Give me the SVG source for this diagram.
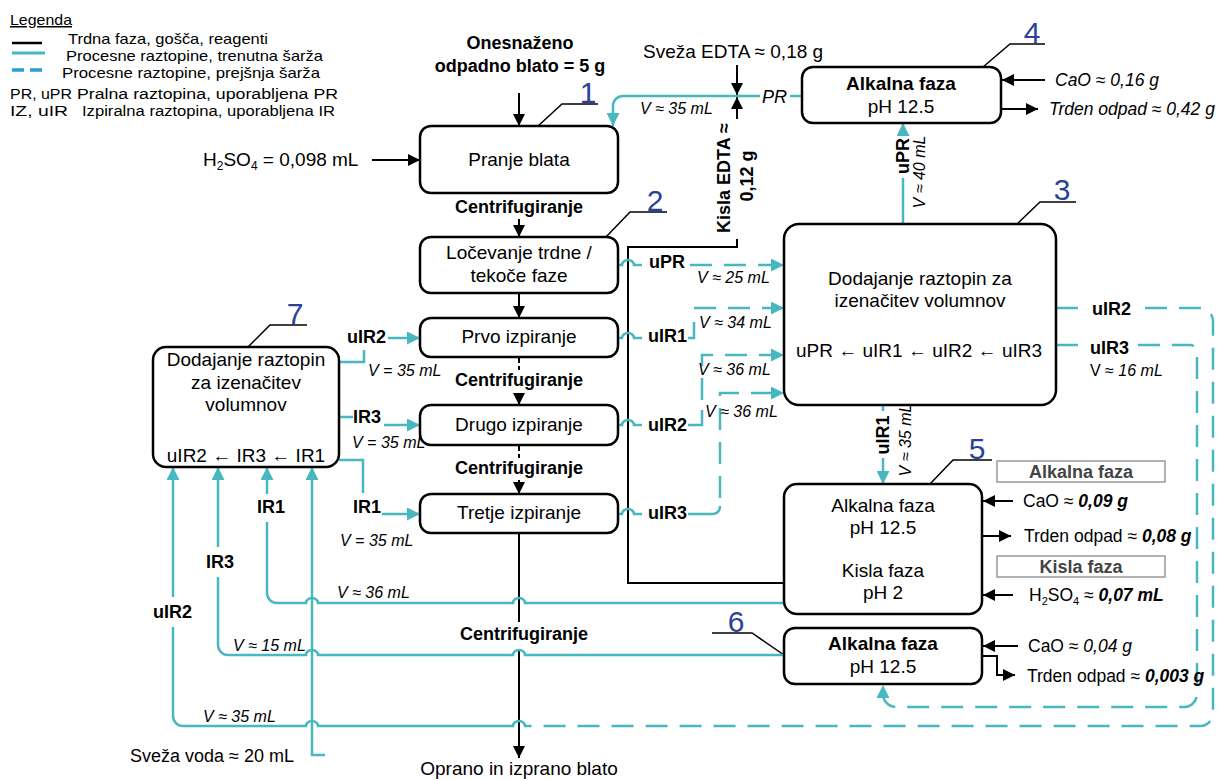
<svg xmlns="http://www.w3.org/2000/svg" width="1227" height="779" viewBox="0 0 1227 779">
<defs>
<marker id="ak" markerUnits="userSpaceOnUse" markerWidth="12" markerHeight="12" viewBox="0 0 12 12" refX="12" refY="6" orient="auto"><path d="M0,0 L12,6 L0,12 z" fill="#000"/></marker>
<marker id="at" markerUnits="userSpaceOnUse" markerWidth="13" markerHeight="13" viewBox="0 0 12 12" refX="12" refY="6" orient="auto"><path d="M0,0 L12,6 L0,12 z" fill="#47b8c0"/></marker>
</defs>
<style>
text{font-family:"Liberation Sans",Arial,sans-serif;fill:#000}
.bx{fill:#fff;stroke:#000;stroke-width:2.5}
.t{font-size:19px;text-anchor:middle}
.tb{font-size:19px;text-anchor:middle;font-weight:bold}
.c{font-size:18px;font-weight:bold;text-anchor:middle}
.lb{font-size:18px;font-weight:bold}
.v{font-size:16px;font-style:italic}
.r{font-size:17.5px}
.num{font-size:30px;fill:#2b3f9b;text-anchor:middle}
.lg{font-size:15px}
.lg2{font-size:15.5px}
.k{fill:none;stroke:#000;stroke-width:2}
.tl{fill:none;stroke:#47b8c0;stroke-width:2.5}
.td{fill:none;stroke:#47b8c0;stroke-width:2.5;stroke-dasharray:22 12}
.ld{fill:none;stroke:#000;stroke-width:1.5}
.gb{fill:#fff;stroke:#999;stroke-width:1.5}
.gt{font-size:18px;font-weight:bold;fill:#444;text-anchor:middle}
</style>

<g id="legend">
<text x="10" y="25" class="lg" text-decoration="underline" textLength="62" lengthAdjust="spacingAndGlyphs">Legenda</text>
<line x1="12" y1="43" x2="42" y2="43" stroke="#000" stroke-width="2.5"/>
<text x="68" y="44" class="lg" textLength="200" lengthAdjust="spacingAndGlyphs">Trdna faza, gošča, reagenti</text>
<line x1="12" y1="53" x2="45" y2="53" stroke="#47b8c0" stroke-width="3"/>
<text x="66" y="61" class="lg" textLength="257" lengthAdjust="spacingAndGlyphs">Procesne raztopine, trenutna šarža</text>
<line x1="12" y1="70" x2="42" y2="70" stroke="#2a9fd6" stroke-width="3.5" stroke-dasharray="12 6"/>
<text x="62" y="78" class="lg" textLength="258" lengthAdjust="spacingAndGlyphs">Procesne raztopine, prejšnja šarža</text>
<text x="10" y="99" class="lg2" textLength="62" lengthAdjust="spacingAndGlyphs">PR, uPR</text>
<text x="77" y="99" class="lg2" textLength="261" lengthAdjust="spacingAndGlyphs">Pralna raztopina, uporabljena PR</text>
<text x="10" y="116" class="lg2" textLength="58" lengthAdjust="spacingAndGlyphs">IZ, uIR</text>
<text x="82" y="116" class="lg2" textLength="253" lengthAdjust="spacingAndGlyphs">Izpiralna raztopina, uporabljena IR</text>
</g>

<g id="connectors">
<!-- black main flow -->
<path class="k" d="M519 93 L519 126" marker-end="url(#ak)"/>
<path class="k" d="M372 160 L420 160" marker-end="url(#ak)"/>
<path class="k" d="M519 219 L519 237" marker-end="url(#ak)"/>
<path class="k" d="M519 294 L519 318" marker-end="url(#ak)"/>
<path class="k" d="M519 358 L519 370" stroke-dasharray="5 3"/>
<path class="k" d="M519 393 L519 405" marker-end="url(#ak)"/>
<path class="k" d="M519 446 L519 458" stroke-dasharray="5 3"/>
<path class="k" d="M519 480 L519 494" marker-end="url(#ak)"/>
<path class="k" d="M519 533 L519 622"/>
<path class="k" d="M519 650 L519 758" marker-end="url(#ak)"/>
<path class="k" d="M737 65 L737 95" marker-end="url(#ak)"/>
<path class="k" d="M737 119 L737 97" marker-end="url(#ak)"/>
<path class="k" d="M784 583 L628 583 L628 247 L737 247 L737 239"/>
<path class="k" d="M1045 80 L1002 80" marker-end="url(#ak)"/>
<path class="k" d="M1002 109 L1038 109" marker-end="url(#ak)"/>
<path class="k" d="M1013 501 L983 501" marker-end="url(#ak)"/>
<path class="k" d="M983 536 L1011 536" marker-end="url(#ak)"/>
<path class="k" d="M1013 595 L983 595" marker-end="url(#ak)"/>
<path class="k" d="M1018 646 L983 646" marker-end="url(#ak)"/>
<path class="k" d="M982 656 L997 656 L997 675 L1015 675" marker-end="url(#ak)"/>

<!-- leaders -->
<path class="ld" d="M538 126 L562 104 L598 104"/>
<path class="ld" d="M606 237 L630 212 L667 212"/>
<path class="ld" d="M1017 224 L1040 202 L1076 202"/>
<path class="ld" d="M983 67 L1010 44 L1045 44"/>
<path class="ld" d="M930 484 L953 460 L992 460"/>
<path class="ld" d="M712 633 L752 633 L784 655"/>
<path class="ld" d="M248 347 L270 325 L307 325"/>

<!-- teal solid -->
<path class="tl" d="M802 96 L790 96"/>
<path class="tl" d="M760 96 L623 96 A10 10 0 0 0 613 106 L613 126" marker-end="url(#at)"/>
<path class="tl" d="M903 224 L903 178"/>
<path class="tl" d="M903 134 L903 123" marker-end="url(#at)"/>
<path class="tl" d="M883 405 L883 411"/>
<path class="tl" d="M883 458 L883 484" marker-end="url(#at)"/>
<path class="tl" d="M618 265 L622 265 A6 5 0 0 1 634 265 L642 265"/>
<path class="tl" d="M618 338 L622 338 A6 5 0 0 1 634 338 L642 338"/>
<path class="tl" d="M688 338 L694 338 L694 322"/>
<path class="tl" d="M618 425 L622 425 A6 5 0 0 1 634 425 L642 425"/>
<path class="tl" d="M688 425 L702 425 L702 410"/>
<path class="tl" d="M618 514 L622 514 A6 5 0 0 1 634 514 L642 514"/>
<path class="tl" d="M688 514 L712 514 Q720 514 720 506"/>
<!-- box7 outputs -->
<path class="tl" d="M339 362 L364 362 L364 350"/>
<path class="tl" d="M388 338 L420 338" marker-end="url(#at)"/>
<path class="tl" d="M339 417 L353 417"/>
<path class="tl" d="M384 425 L420 425" marker-end="url(#at)"/>
<path class="tl" d="M339 460 L363 460 L363 493"/>
<path class="tl" d="M382 514 L420 514" marker-end="url(#at)"/>
<!-- returns to box7 -->
<path class="tl" d="M784 603 L525 603 A6 5 0 0 0 513 603 L318 603 A6 5 0 0 0 306 603 L277 603 A10 10 0 0 1 267 593 L267 522"/>
<path class="tl" d="M267 494 L267 467" marker-end="url(#at)"/>
<path class="tl" d="M784 655 L525 655 A6 5 0 0 0 513 655 L318 655 A6 5 0 0 0 306 655 L228 655 A10 10 0 0 1 218 645 L218 577"/>
<path class="tl" d="M218 547 L218 467" marker-end="url(#at)"/>
<path class="tl" d="M529 726 L525 726 A6 5 0 0 0 513 726 L318 726 A6 5 0 0 0 306 726 L183 726 A10 10 0 0 1 173 716 L173 627"/>
<path class="tl" d="M173 597 L173 467" marker-end="url(#at)"/>
<path class="tl" d="M325 755 L312 755 L312 467" marker-end="url(#at)"/>

<!-- teal dashed -->
<path class="td" d="M690 265 L784 265" marker-end="url(#at)"/>
<path class="td" d="M694 308 L784 308" marker-end="url(#at)"/>
<path class="td" d="M702 400 L702 355 L784 355" marker-end="url(#at)"/>
<path class="td" d="M720 498 L720 393 L784 393" marker-end="url(#at)"/>
<path class="td" d="M1056 308 L1086 308"/>
<path class="td" d="M1145 308 L1200 308 A13 13 0 0 1 1213 321 L1213 713 A13 13 0 0 1 1200 726 L529 726"/>
<path class="td" d="M1056 345 L1084 345"/>
<path class="td" d="M1138 345 L1190 345 A7 7 0 0 1 1197 352 L1197 694 A13 13 0 0 1 1184 707 L896 707 A13 13 0 0 1 883 694 L883 685" marker-end="url(#at)"/>
</g>

<g id="top-input">
<text x="520" y="49" class="c" font-size="19">Onesnaženo</text>
<text x="520" y="72" class="c" font-size="19">odpadno blato = 5 g</text>
<text x="203" y="166" font-size="19">H<tspan font-size="12" dy="4">2</tspan><tspan dy="-4">SO</tspan><tspan font-size="12" dy="4">4</tspan><tspan dy="-4"> = 0,098 mL</tspan></text>
</g>

<g id="n1">
<rect class="bx" x="420" y="126" width="198" height="67" rx="11"/>
<text x="519" y="166" class="t">Pranje blata</text>
<text x="588" y="103" class="num">1</text>
</g>
<text x="519" y="213" class="c">Centrifugiranje</text>

<g id="n2">
<rect class="bx" x="420" y="237" width="198" height="56" rx="11"/>
<text x="519" y="259" class="t">Ločevanje trdne /</text>
<text x="519" y="282" class="t">tekoče faze</text>
<text x="655" y="211" class="num">2</text>
</g>

<g id="n-prvo">
<rect class="bx" x="420" y="318" width="198" height="39" rx="11"/>
<text x="519" y="343" class="t">Prvo izpiranje</text>
</g>
<text x="519" y="386" class="c">Centrifugiranje</text>

<g id="n-drugo">
<rect class="bx" x="420" y="405" width="198" height="40" rx="11"/>
<text x="519" y="431" class="t">Drugo izpiranje</text>
</g>
<text x="519" y="474" class="c">Centrifugiranje</text>

<g id="n-tretje">
<rect class="bx" x="420" y="494" width="198" height="39" rx="11"/>
<text x="519" y="519" class="t">Tretje izpiranje</text>
</g>
<text x="524" y="640" class="c">Centrifugiranje</text>
<text x="519" y="775" class="t" font-size="18">Oprano in izprano blato</text>

<g id="n7">
<rect class="bx" x="153" y="347" width="186" height="120" rx="13"/>
<text x="246" y="366" class="t">Dodajanje raztopin</text>
<text x="246" y="389" class="t">za izenačitev</text>
<text x="246" y="411" class="t">volumnov</text>
<text x="246" y="462" class="t" font-size="18">uIR2 <tspan font-weight="bold">←</tspan> IR3 <tspan font-weight="bold">←</tspan> IR1</text>
<text x="295" y="324" class="num">7</text>
</g>

<g id="n3">
<rect class="bx" x="784" y="224" width="272" height="181" rx="15"/>
<text x="920" y="285" class="t">Dodajanje raztopin za</text>
<text x="920" y="307" class="t">izenačitev volumnov</text>
<text x="919" y="357" class="t" font-size="17">uPR <tspan font-weight="bold">←</tspan> uIR1 <tspan font-weight="bold">←</tspan> uIR2 <tspan font-weight="bold">←</tspan> uIR3</text>
<text x="1062" y="200" class="num">3</text>
</g>

<g id="n4">
<rect class="bx" x="802" y="67" width="199" height="56" rx="11"/>
<text x="901" y="90" class="tb" font-size="18.5">Alkalna faza</text>
<text x="901" y="113" class="t">pH 12.5</text>
<text x="1032" y="43" class="num">4</text>
<text x="1055" y="86" class="r" font-style="italic">CaO ≈ 0,16 g</text>
<text x="1049" y="115" class="r" font-style="italic">Trden odpad ≈ 0,42  g</text>
</g>

<g id="n5">
<rect class="bx" x="784" y="484" width="198" height="130" rx="13"/>
<text x="883" y="512" class="t" font-size="18">Alkalna faza</text>
<text x="883" y="534" class="t" font-size="18">pH 12.5</text>
<text x="883" y="577" class="t" font-size="18">Kisla faza</text>
<text x="883" y="599" class="t" font-size="18">pH 2</text>
<text x="977" y="459" class="num">5</text>
<rect class="gb" x="997" y="461" width="168" height="21"/>
<text x="1081" y="478" class="gt">Alkalna faza</text>
<rect class="gb" x="997" y="556" width="168" height="21"/>
<text x="1081" y="573" class="gt">Kisla faza</text>
<text x="1023" y="507" class="r">CaO ≈ <tspan font-weight="bold" font-style="italic">0,09 g</tspan></text>
<text x="1024" y="542" class="r">Trden odpad ≈ <tspan font-weight="bold" font-style="italic">0,08 g</tspan></text>
<text x="1029" y="601" class="r">H<tspan font-size="11" dy="4">2</tspan><tspan dy="-4">SO</tspan><tspan font-size="11" dy="4">4</tspan><tspan dy="-4"> ≈ </tspan><tspan font-weight="bold" font-style="italic">0,07 mL</tspan></text>
</g>

<g id="n6">
<rect class="bx" x="784" y="628" width="198" height="56" rx="11"/>
<text x="883" y="650" class="tb" font-size="18.5">Alkalna faza</text>
<text x="883" y="673" class="t">pH 12.5</text>
<text x="736" y="632" class="num">6</text>
<text x="1028" y="652" class="r">CaO ≈ <tspan font-style="italic">0,04 g</tspan></text>
<text x="1027" y="682" class="r">Trden odpad ≈ <tspan font-weight="bold" font-style="italic">0,003 g</tspan></text>
</g>

<g id="labels">
<text x="643" y="58" font-size="19">Sveža EDTA ≈ 0,18 g</text>
<text x="762" y="103" font-size="18" font-style="italic">PR</text>
<text x="640" y="114" class="v">V ≈ 35 mL</text>
<text transform="translate(730,178) rotate(-90)" class="lb" text-anchor="middle">Kisla EDTA ≈</text>
<text transform="translate(753,176) rotate(-90)" class="lb" text-anchor="middle">0,12 g</text>
<text transform="translate(909,156) rotate(-90)" class="lb" text-anchor="middle">uPR</text>
<text transform="translate(925,172) rotate(-90)" class="v" text-anchor="middle">V ≈ 40 mL</text>
<text transform="translate(889,435) rotate(-90)" class="lb" text-anchor="middle">uIR1</text>
<text transform="translate(911,440) rotate(-90)" class="v" text-anchor="middle">V ≈ 35 mL</text>

<text x="649" y="268" class="lb">uPR</text>
<text x="697" y="283" class="v">V ≈ 25 mL</text>
<text x="648" y="342" class="lb">uIR1</text>
<text x="699" y="328" class="v">V ≈ 34 mL</text>
<text x="648" y="431" class="lb">uIR2</text>
<text x="698" y="375" class="v">V ≈ 36 mL</text>
<text x="648" y="519" class="lb">uIR3</text>
<text x="705" y="417" class="v">V ≈ 36 mL</text>

<text x="1092" y="315" class="lb">uIR2</text>
<text x="1090" y="354" class="lb">uIR3</text>
<text x="1090" y="376" font-size="16">V ≈ <tspan font-style="italic">16 mL</tspan></text>

<text x="347" y="343" class="lb">uIR2</text>
<text x="368" y="376" class="v">V = 35 mL</text>
<text x="353" y="423" class="lb">IR3</text>
<text x="352" y="448" class="v">V = 35 mL</text>
<text x="353" y="513" class="lb">IR1</text>
<text x="340" y="546" class="v">V = 35 mL</text>

<text x="257" y="513" class="lb">IR1</text>
<text x="206" y="568" class="lb">IR3</text>
<text x="153" y="618" class="lb">uIR2</text>
<text x="337" y="598" class="v">V ≈ 36 mL</text>
<text x="233" y="651" class="v">V ≈ 15 mL</text>
<text x="203" y="722" class="v">V ≈ 35 mL</text>
<text x="130" y="762" font-size="18">Sveža voda ≈ 20 mL</text>
</g>
</svg>
